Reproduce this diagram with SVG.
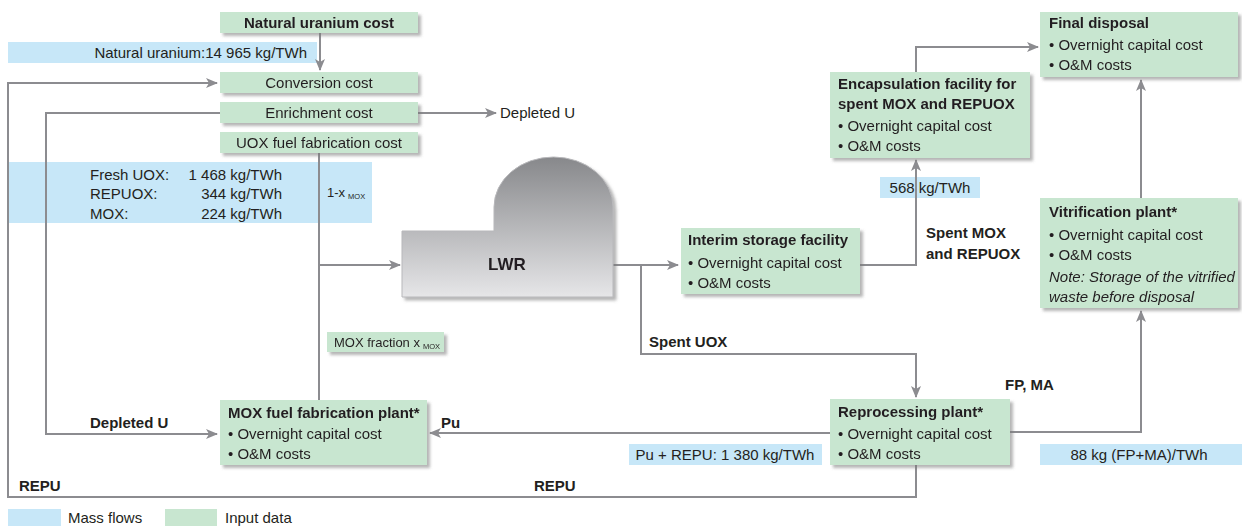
<svg xmlns="http://www.w3.org/2000/svg" width="1242" height="526" viewBox="0 0 1242 526">
<style>
text{font-family:"Liberation Sans",Arial,sans-serif;font-size:15px;fill:#231f20}
.b{font-weight:bold}
.i{font-style:italic}
.sm{font-size:13px}
.sub{font-size:7.5px}
.g{fill:#c8e6d0}
.bl{fill:#c7e7f8}
.ln{fill:none;stroke:#8c8c90;stroke-width:2}
.ar{marker-end:url(#ah)}
</style>
<defs>
<marker id="ah" markerWidth="12" markerHeight="10" refX="11" refY="5" orient="auto" markerUnits="userSpaceOnUse">
<path d="M0,0 L12,5 L0,10 L3,5 Z" fill="#8c8c90"/>
</marker>
<filter id="sh" x="-10%" y="-20%" width="125%" height="150%">
<feDropShadow dx="3" dy="3" stdDeviation="1.5" flood-color="#7a7a7a" flood-opacity="0.55"/>
</filter>
<linearGradient id="lwr" x1="0" y1="157" x2="0" y2="297" gradientUnits="userSpaceOnUse">
<stop offset="0" stop-color="#87888b"/>
<stop offset="1" stop-color="#e6e6e8"/>
</linearGradient>
</defs>
<rect width="1242" height="526" fill="#ffffff"/>

<g id="mass-flows">
<rect class="bl" x="8" y="42" width="309" height="21"/>
<text x="307" y="58" text-anchor="end">Natural uranium:14 965 kg/TWh</text>
<rect class="bl" x="8" y="162" width="364" height="61"/>
<text x="90" y="180">Fresh UOX:</text>
<text x="282" y="180" text-anchor="end">1 468 kg/TWh</text>
<text x="90" y="199">REPUOX:</text>
<text x="282" y="199" text-anchor="end">344 kg/TWh</text>
<text x="90" y="219">MOX:</text>
<text x="282" y="219" text-anchor="end">224 kg/TWh</text>
<text x="327" y="197" class="sm">1-x<tspan class="sub" dx="3" dy="2">MOX</tspan></text>
<rect class="bl" x="880" y="177" width="100" height="21"/>
<text x="930" y="193" text-anchor="middle">568 kg/TWh</text>
<rect class="bl" x="629" y="444" width="193" height="21"/>
<text x="725" y="460" text-anchor="middle">Pu + REPU: 1 380 kg/TWh</text>
<rect class="bl" x="1040" y="444" width="202" height="21"/>
<text x="1139" y="460" text-anchor="middle">88 kg (FP+MA)/TWh</text>
</g>

<g id="connectors">
<path class="ln ar" d="M320,33 V70"/>
<path class="ln ar" d="M916,465 V497 H8 V83 H217"/>
<path class="ln ar" d="M418,113 H496"/>
<path class="ln ar" d="M220,113 H46 V434 H217"/>
<path class="ln" d="M319,152 V400"/>
<path class="ln ar" d="M319,265 H400"/>
<path class="ln ar" d="M613,265 H678"/>
<path class="ln ar" d="M641,265 V354 H916 V397"/>
<path class="ln ar" d="M860,265 H916 V160"/>
<path class="ln ar" d="M916,72 V47 H1038"/>
<path class="ln ar" d="M830,433 H430"/>
<path class="ln ar" d="M1010,432 H1141 V311"/>
<path class="ln ar" d="M1141,198 V80"/>
<text x="500" y="118">Depleted U</text>
<text x="90" y="428" class="b">Depleted U</text>
<text x="441" y="428" class="b">Pu</text>
<text x="19" y="491" class="b">REPU</text>
<text x="534" y="491" class="b">REPU</text>
<text x="649" y="347" class="b">Spent UOX</text>
<text x="926" y="238" class="b">Spent MOX</text>
<text x="926" y="259" class="b">and REPUOX</text>
<text x="1005" y="390" class="b">FP, MA</text>
</g>

<g id="natural-uranium-cost" filter="url(#sh)">
<rect class="g" x="220" y="12" width="198" height="21"/>
<text x="319" y="28" text-anchor="middle" class="b">Natural uranium cost</text>
</g>
<g id="conversion-cost" filter="url(#sh)">
<rect class="g" x="220" y="72" width="198" height="21"/>
<text x="319" y="88" text-anchor="middle">Conversion cost</text>
</g>
<g id="enrichment-cost" filter="url(#sh)">
<rect class="g" x="220" y="102" width="198" height="21"/>
<text x="319" y="118" text-anchor="middle">Enrichment cost</text>
</g>
<g id="uox-fabrication-cost" filter="url(#sh)">
<rect class="g" x="220" y="132" width="198" height="21"/>
<text x="319" y="148" text-anchor="middle">UOX fuel fabrication cost</text>
</g>
<g id="mox-fraction" filter="url(#sh)">
<rect class="g" x="327" y="332" width="117" height="20"/>
<text x="334" y="347" class="sm">MOX fraction x<tspan class="sub" dx="3" dy="2">MOX</tspan></text>
</g>
<g id="lwr" filter="url(#sh)">
<path d="M402,231 H494 V207 A59.5,50 0 0 1 613,207 V297 H402 Z" fill="url(#lwr)" stroke="#b8b8bb" stroke-width="1"/>
<text x="507" y="270" text-anchor="middle" class="b" style="font-size:17px">LWR</text>
</g>
<g id="mox-fabrication-plant" filter="url(#sh)">
<rect class="g" x="220" y="400" width="207" height="65"/>
<text x="228" y="418" class="b">MOX fuel fabrication plant*</text>
<text x="228" y="439">• Overnight capital cost</text>
<text x="228" y="459">• O&amp;M costs</text>
</g>
<g id="interim-storage" filter="url(#sh)">
<rect class="g" x="681" y="228" width="179" height="66"/>
<text x="688" y="245" class="b">Interim storage facility</text>
<text x="688" y="268">• Overnight capital cost</text>
<text x="688" y="288">• O&amp;M costs</text>
</g>
<g id="encapsulation-facility" filter="url(#sh)">
<rect class="g" x="830" y="72" width="200" height="86"/>
<text x="838" y="89" class="b">Encapsulation facility for</text>
<text x="838" y="109" class="b">spent MOX and REPUOX</text>
<text x="838" y="131">• Overnight capital cost</text>
<text x="838" y="151">• O&amp;M costs</text>
</g>
<g id="final-disposal" filter="url(#sh)">
<rect class="g" x="1040" y="12" width="198" height="65"/>
<text x="1049" y="28" class="b">Final disposal</text>
<text x="1049" y="50">• Overnight capital cost</text>
<text x="1049" y="70">• O&amp;M costs</text>
</g>
<g id="vitrification-plant" filter="url(#sh)">
<rect class="g" x="1040" y="198" width="198" height="110"/>
<text x="1049" y="217" class="b">Vitrification plant*</text>
<text x="1049" y="240">• Overnight capital cost</text>
<text x="1049" y="260">• O&amp;M costs</text>
<text x="1049" y="282" class="i">Note: Storage of the vitrified</text>
<text x="1049" y="302" class="i">waste before disposal</text>
</g>
<g id="reprocessing-plant" filter="url(#sh)">
<rect class="g" x="830" y="399" width="180" height="66"/>
<text x="838" y="417" class="b">Reprocessing plant*</text>
<text x="838" y="439">• Overnight capital cost</text>
<text x="838" y="459">• O&amp;M costs</text>
</g>

<g id="legend">
<rect class="bl" x="8" y="509" width="53" height="17"/>
<text x="68" y="523">Mass flows</text>
<rect class="g" x="165" y="509" width="52" height="17"/>
<text x="225" y="523">Input data</text>
</g>
</svg>
